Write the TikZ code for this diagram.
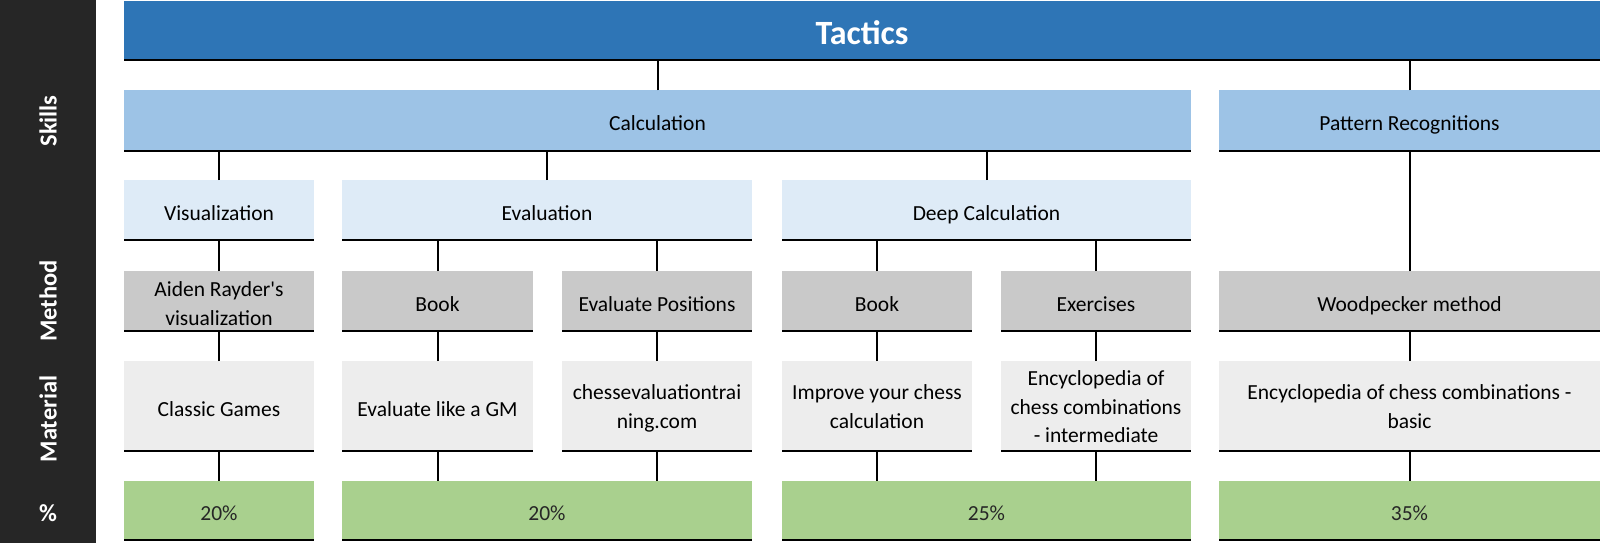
\documentclass[tikz,border=0pt]{standalone}
\usepackage{fontspec}
\setmainfont{Carlito}
\definecolor{barcol}{HTML}{262626}
\definecolor{tacticscol}{HTML}{2E75B6}
\definecolor{skillcol}{HTML}{9DC3E6}
\definecolor{subcol}{HTML}{DEEBF7}
\definecolor{methodcol}{HTML}{C9C9C9}
\definecolor{matcol}{HTML}{EDEDED}
\definecolor{pctcol}{HTML}{A9D08E}
\tikzset{
  plaincell/.style={rectangle, inner sep=0pt, outer sep=0pt, align=center, text=black},
  cell/.style={plaincell, font=\fontsize{21.5}{28.5}\selectfont,
    execute at begin node={\rule{0pt}{25pt}},
    execute at end node={\rule[-5pt]{0pt}{5pt}}},
  multi/.style={execute at begin node={\rule{0pt}{#1}}},
  tacticsbox/.style={plaincell, fill=tacticscol, text=white, font=\fontsize{34}{40}\selectfont\bfseries,
    text height=30pt, text depth=2pt},
  skillbox/.style={cell, fill=skillcol},
  subbox/.style={cell, fill=subcol},
  methodbox/.style={cell, fill=methodcol},
  matbox/.style={cell, fill=matcol},
  pctbox/.style={cell, fill=pctcol, text=barcol},
  rowlabel/.style={inner sep=0pt, text=white, font=\fontsize{24.5}{28}\selectfont\bfseries},
  conn/.style={draw=black, line width=2pt},
  border/.style={draw=black, line width=2pt}
}
\begin{document}
\begin{tikzpicture}[x=1pt, y=-1pt]
\useasboundingbox (0,0) rectangle (1600,543);
% left bar
\fill[barcol] (0,0) rectangle (96,543);
\node[rowlabel, rotate=90] (lskills) at (48,121) {Skills};
\node[rowlabel, rotate=90] (lmethod) at (48,301) {Method};
\node[rowlabel, rotate=90] (lmaterial) at (48,419) {Material};
\node[rowlabel] (lpct) at (48,513) {\%};

% top
\node[tacticsbox, minimum width=1476pt, minimum height=59pt] (tac) at (862,30.5) {Tactics};

% skills
\node[skillbox, minimum width=1067pt, minimum height=60.5pt] (calc) at (657.5,120.5) {Calculation};
\node[skillbox, minimum width=381pt, minimum height=60.5pt] (patt) at (1409.5,120.5) {Pattern Recognitions};

% sub skills
\node[subbox, minimum width=190pt, minimum height=60pt] (vis) at (219,210) {Visualization};
\node[subbox, minimum width=410pt, minimum height=60pt] (eval) at (547,210) {Evaluation};
\node[subbox, minimum width=409pt, minimum height=60pt] (deep) at (986.5,210) {Deep Calculation};

% methods
\node[methodbox, multi=53.5pt, minimum width=190pt, minimum height=60pt] (m1) at (219,301) {Aiden Rayder\textquotesingle s\\visualization};
\node[methodbox, minimum width=191pt, minimum height=60pt] (m2) at (437.5,301) {Book};
\node[methodbox, minimum width=190pt, minimum height=60pt] (m3) at (657,301) {Evaluate Positions};
\node[methodbox, minimum width=190pt, minimum height=60pt] (m4) at (877,301) {Book};
\node[methodbox, minimum width=190pt, minimum height=60pt] (m5) at (1096,301) {Exercises};
\node[methodbox, minimum width=381pt, minimum height=60pt] (m6) at (1409.5,301) {Woodpecker method};

% material
\node[matbox, minimum width=190pt, minimum height=90pt] (t1) at (219,406) {Classic Games};
\node[matbox, minimum width=191pt, minimum height=90pt] (t2) at (437.5,406) {Evaluate like a GM};
\node[matbox, multi=49.5pt, minimum width=190pt, minimum height=90pt] (t3) at (657,406) {chessevaluationtrai\\ning.com};
\node[matbox, multi=49.5pt, minimum width=190pt, minimum height=90pt] (t4) at (877,406) {Improve your chess\\calculation};
\node[matbox, multi=78pt, minimum width=190pt, minimum height=90pt] (t5) at (1096,406) {Encyclopedia of\\chess combinations\\- intermediate};
\node[matbox, multi=49.5pt, minimum width=381pt, minimum height=90pt] (t6) at (1409.5,406) {Encyclopedia of chess combinations -\\basic};

% percentages
\node[pctbox, minimum width=190pt, minimum height=59pt] (p1) at (219,510.5) {20\%};
\node[pctbox, minimum width=410pt, minimum height=59pt] (p2) at (547,510.5) {20\%};
\node[pctbox, minimum width=409pt, minimum height=59pt] (p3) at (986.5,510.5) {25\%};
\node[pctbox, minimum width=381pt, minimum height=59pt] (p4) at (1409.5,510.5) {35\%};

% bottom borders
\foreach \n in {tac,calc,patt,vis,eval,deep,m1,m2,m3,m4,m5,m6,t1,t2,t3,t4,t5,t6,p1,p2,p3,p4}
  \draw[border] (\n.south west) -- (\n.south east);

% connectors
\draw[conn] (calc.north) -- (calc.north |- tac.south);
\draw[conn] (patt.north) -- (patt.north |- tac.south);
\draw[conn] (vis.north) -- (vis.north |- calc.south);
\draw[conn] (eval.north) -- (eval.north |- calc.south);
\draw[conn] (deep.north) -- (deep.north |- calc.south);
\draw[conn] (m1.north) -- (m1.north |- vis.south);
\draw[conn] (m2.north) -- (m2.north |- eval.south);
\draw[conn] (m3.north) -- (m3.north |- eval.south);
\draw[conn] (m4.north) -- (m4.north |- deep.south);
\draw[conn] (m5.north) -- (m5.north |- deep.south);
\draw[conn] (m6.north) -- (m6.north |- patt.south);
\foreach \a/\b in {m1/t1,m2/t2,m3/t3,m4/t4,m5/t5,m6/t6}
  \draw[conn] (\b.north) -- (\b.north |- \a.south);
\draw[conn] (t1.south) -- (t1.south |- p1.north);
\draw[conn] (t2.south) -- (t2.south |- p2.north);
\draw[conn] (t3.south) -- (t3.south |- p2.north);
\draw[conn] (t4.south) -- (t4.south |- p3.north);
\draw[conn] (t5.south) -- (t5.south |- p3.north);
\draw[conn] (t6.south) -- (t6.south |- p4.north);
\end{tikzpicture}
\end{document}
